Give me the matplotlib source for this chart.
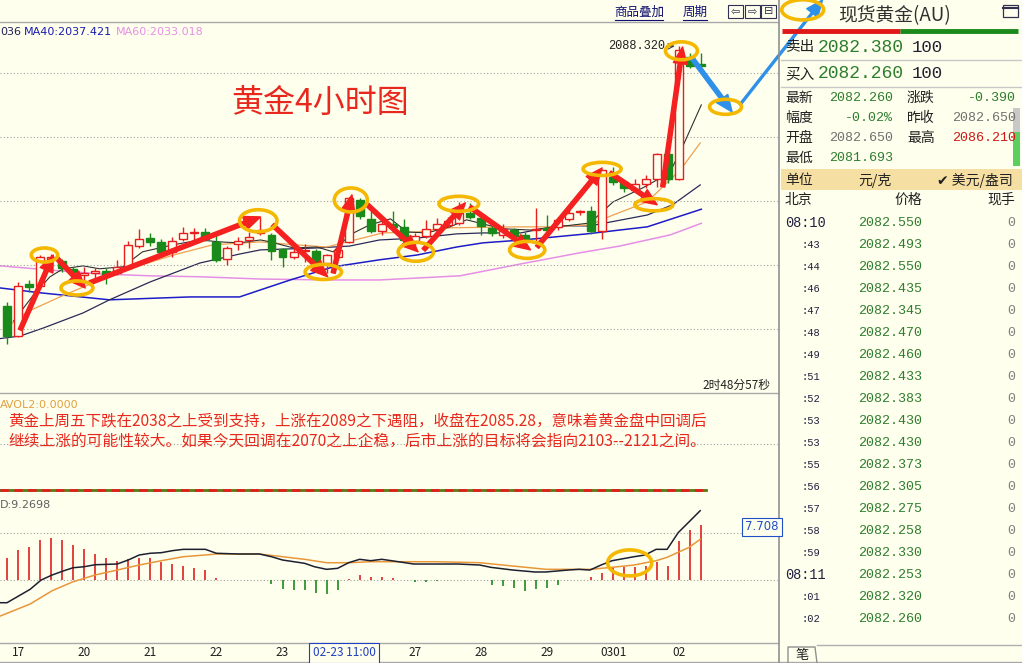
import matplotlib
matplotlib.use("Agg")
import matplotlib.pyplot as plt
from matplotlib.patches import Ellipse, Rectangle
import numpy as np

plt.rcParams['font.family'] = ['Noto Sans CJK SC', 'DejaVu Sans']

# ---- 4小时K线 (开 高 低 收) ----
k_open = [2007.2, 1997.8, 2014.1, 2013.4, 2022.0, 2021.3, 2018.8, 2017.0, 2017.5, 2018.0,
          2017.5, 2019.1, 2025.9, 2028.4, 2027.2, 2024.1, 2028.1, 2030.1, 2030.3, 2027.2,
          2021.9, 2026.6, 2027.8, 2030.0, 2029.4, 2025.0, 2022.5, 2024.4, 2024.4, 2020.6,
          2022.5, 2027.2, 2040.3, 2034.4, 2030.6, 2032.8, 2031.9, 2027.5, 2029.1, 2031.3,
          2032.5, 2033.1, 2036.3, 2034.7, 2031.6, 2029.4, 2030.9, 2029.4, 2030.9, 2031.6,
          2031.9, 2034.4, 2036.6, 2036.9, 2030.6, 2047.5, 2045.9, 2043.4, 2045.3, 2046.9,
          2054.7, 2046.9, 2085.0, 2082.65]
k_high = [2008.4, 2014.7, 2015.3, 2023.1, 2023.5, 2022.0, 2019.5, 2019.4, 2019.1, 2019.0,
          2021.5, 2027.5, 2031.3, 2030.0, 2028.0, 2028.8, 2031.9, 2031.6, 2031.6, 2030.0,
          2026.0, 2028.8, 2030.3, 2035.0, 2030.0, 2025.3, 2025.3, 2026.6, 2025.0, 2023.5,
          2027.2, 2041.3, 2041.0, 2036.9, 2034.7, 2036.9, 2034.4, 2030.0, 2034.1, 2034.7,
          2035.0, 2039.7, 2039.4, 2035.5, 2032.2, 2032.8, 2031.6, 2030.3, 2037.8, 2035.6,
          2035.0, 2038.1, 2037.2, 2038.4, 2050.0, 2050.6, 2046.5, 2047.0, 2048.1, 2055.0,
          2055.0, 2088.32, 2086.3, 2086.21]
k_low = [1995.3, 1997.5, 2011.6, 2012.5, 2018.0, 2017.8, 2017.0, 2013.5, 2016.0, 2014.0,
         2017.0, 2018.8, 2025.3, 2025.9, 2023.1, 2022.5, 2027.5, 2026.9, 2027.5, 2021.0,
         2020.0, 2024.7, 2025.3, 2029.5, 2021.6, 2019.4, 2022.0, 2021.0, 2018.4, 2017.5,
         2022.0, 2026.9, 2034.4, 2030.0, 2029.4, 2030.3, 2027.0, 2026.0, 2028.4, 2030.6,
         2031.9, 2032.5, 2034.4, 2029.4, 2029.0, 2028.4, 2028.4, 2026.6, 2027.2, 2030.0,
         2031.0, 2033.8, 2035.6, 2029.7, 2028.1, 2045.0, 2042.8, 2043.0, 2044.0, 2044.4,
         2045.6, 2046.5, 2081.5, 2081.69]
k_close = [1997.8, 2013.4, 2013.1, 2022.5, 2022.5, 2019.1, 2017.8, 2017.5, 2018.1, 2017.2,
           2019.4, 2026.3, 2028.1, 2027.2, 2024.1, 2027.5, 2030.0, 2030.3, 2028.1, 2021.6,
           2025.3, 2027.5, 2028.8, 2031.0, 2024.4, 2022.5, 2024.1, 2024.7, 2020.6, 2023.1,
           2024.7, 2040.9, 2035.3, 2030.6, 2032.8, 2031.9, 2027.8, 2029.1, 2031.3, 2032.8,
           2033.8, 2036.3, 2035.0, 2032.2, 2030.0, 2031.3, 2029.1, 2027.5, 2031.3, 2031.0,
           2034.1, 2036.3, 2036.9, 2030.6, 2049.7, 2045.9, 2044.1, 2045.3, 2046.9, 2054.7,
           2046.9, 2087.2, 2082.2, 2082.26]

# ---- 均线 (K线序号, 价格) ----
ma5_x = [0.6, 2.4, 3.9, 5.1, 6.9, 8.4, 10.5, 12.3, 15.1, 17.5, 19.3, 21.1, 23.0, 23.9, 26.0,
         28.1, 29.6, 31.1, 32.9, 34.8, 36.3, 38.1, 40.2, 41.7, 43.2, 45.0, 47.5, 49.9, 52.9,
         55.0, 57.7, 59.0, 59.9, 61.3, 63.0]
ma5_y = [2002.5, 2010.6, 2016.3, 2018.8, 2019.7, 2018.8, 2019.4, 2024.1, 2026.3, 2027.8, 2027.2,
         2026.9, 2027.8, 2027.2, 2025.3, 2025.6, 2024.1, 2029.4, 2032.5, 2034.4, 2030.3, 2030.0,
         2031.9, 2034.1, 2032.8, 2031.3, 2030.9, 2031.9, 2033.1, 2039.7, 2044.1, 2046.6, 2047.2,
         2056.9, 2070.0]
ma10_x = [0.0, 1.8, 4.8, 7.8, 11.4, 15.1, 18.7, 23.0, 25.0, 29.0, 30.5, 34.1, 37.2, 40.2, 46.3,
          49.0, 52.9, 55.0, 58.1, 59.5, 61.1, 62.9]
ma10_y = [2000.6, 2005.3, 2010.0, 2014.4, 2019.1, 2023.1, 2026.3, 2027.2, 2026.6, 2025.6, 2026.9,
          2030.0, 2030.3, 2031.6, 2031.9, 2031.9, 2032.5, 2035.6, 2039.7, 2044.4, 2049.7, 2058.1]
ma20_x = [-0.6, 1.2, 3.3, 6.9, 9.3, 13.0, 17.5, 21.1, 23.0, 28.1, 31.1, 33.8, 37.2, 40.8, 43.2,
          46.6, 49.9, 52.9, 58.1, 60.4, 62.9]
ma20_y = [1997.0, 1997.8, 2000.3, 2005.0, 2009.1, 2014.7, 2020.6, 2023.4, 2024.7, 2025.3, 2025.9,
          2027.8, 2028.4, 2029.7, 2030.0, 2030.0, 2032.2, 2032.2, 2035.6, 2038.8, 2045.0]
ma40_x = [-0.6, 3.0, 9.3, 16.6, 21.1, 23.0, 25.7, 29.6, 33.8, 37.2, 40.8, 43.2, 46.8, 52.6, 58.1, 63.0]
ma40_y = [2012.8, 2011.3, 2009.1, 2010.0, 2010.0, 2012.2, 2015.3, 2019.4, 2021.6, 2023.1, 2025.6,
          2026.9, 2027.8, 2029.7, 2031.9, 2037.4]
ma60_x = [-0.6, 3.9, 8.4, 13.0, 17.5, 23.0, 29.3, 33.8, 41.1, 46.6, 52.0, 55.6, 60.2, 63.0]
ma60_y = [2019.7, 2018.4, 2017.2, 2016.6, 2016.3, 2015.6, 2015.3, 2015.3, 2016.6, 2020.3, 2023.8,
          2025.9, 2029.4, 2033.0]

# ---- MACD ----
macd_hist = [3.68, 5.08, 5.54, 6.78, 7.07, 6.78, 5.93, 5.20, 4.41, 3.68, 3.22, 3.56, 3.78, 3.68,
             3.10, 2.71, 2.42, 2.08, 1.69, 0.39, 0.08, 0.05, 0.0, -0.05, -0.68, -1.58, -1.69,
             -1.69, -2.25, -2.37, -1.69, 0.17, 0.85, 0.56, 0.56, 0.29, 0.05, -0.34, -0.34, -0.25,
             -0.08, 0.0, 0.0, 0.0, -0.85, -1.02, -1.30, -1.81, -1.53, -1.30, -0.85, 0.05, 0.08,
             0.46, 1.24, 1.98, 2.25, 2.15, 2.37, 3.10, 2.37, 6.66, 8.47, 9.27]
dif_x = [-0.6, 0.0, 2.1, 3.1, 4.1, 5.1, 6.0, 7.0, 8.0, 10.0, 11.0, 12.0, 13.0, 14.0, 15.0, 16.0,
         18.0, 19.0, 21.0, 22.9, 24.0, 25.0, 27.0, 27.9, 29.0, 30.0, 31.0, 32.0, 33.0, 34.0, 34.9,
         36.9, 38.9, 40.9, 42.9, 43.9, 45.9, 47.9, 48.9, 50.9, 51.9, 52.9, 53.9, 54.9, 56.9, 57.9,
         58.9, 59.9, 60.9, 61.9, 62.9]
dif_y = [-3.85, -3.85, -1.58, 0.0, 0.85, 1.53, 2.08, 2.25, 2.59, 2.71, 3.39, 4.24, 4.53, 4.63,
         4.97, 5.20, 5.20, 4.53, 4.41, 4.41, 3.95, 3.39, 2.83, 2.25, 1.81, 1.98, 2.93, 3.51, 3.27,
         3.51, 3.27, 2.71, 2.71, 2.71, 2.54, 2.15, 1.69, 1.36, 1.36, 1.69, 1.81, 1.69, 2.54, 3.27,
         3.95, 4.24, 5.20, 5.20, 8.02, 9.88, 11.75]
dea_x = [-0.6, 2.1, 4.1, 6.0, 8.0, 10.0, 12.0, 14.0, 16.0, 18.0, 19.0, 22.9, 25.0, 27.0, 29.0,
         31.0, 33.0, 34.9, 38.9, 42.9, 45.9, 48.9, 51.9, 52.9, 54.9, 56.9, 58.9, 59.9, 61.9, 62.9]
dea_y = [-6.10, -4.07, -1.81, -0.29, 0.85, 1.69, 2.54, 3.27, 3.95, 4.24, 4.41, 4.41, 3.95, 3.51,
         2.93, 2.93, 3.10, 3.10, 3.10, 2.93, 2.37, 1.81, 1.81, 1.81, 2.15, 2.54, 3.27, 3.85, 5.54,
         6.90]

day_ticks = [1, 7, 13, 19, 25, 37, 43, 49, 55, 61]
day_labels = ['17', '20', '21', '22', '23', '27', '28', '29', '0301', '02']
grid_prices = [2000, 2020, 2040, 2060, 2080]

# ---- 标注: 红色箭头 (起点 -> 终点), 黄色圈 ----
red_from = [(1.2, 1999.7), (4.5, 2022.2), (7.5, 2014.4), (24.1, 2032.5), (29.6, 2017.5),
            (32.7, 2038.8), (37.8, 2024.7), (42.0, 2038.1), (48.1, 2025.6), (54.7, 2048.8),
            (59.5, 2044.4)]
red_to = [(4.2, 2023.1), (7.1, 2012.8), (23.0, 2035.0), (29.1, 2016.3), (31.3, 2041.9),
          (37.3, 2024.1), (41.6, 2039.4), (47.5, 2024.7), (54.0, 2050.3), (59.0, 2038.8),
          (61.3, 2088.1)]
blue_from = [(62.2, 2084.4), (66.5, 2070.0)]
blue_to = [(65.8, 2067.8), (74.0, 2102.8)]
ring_x = [3.4, 6.35, 22.8, 28.7, 31.2, 37.1, 41.0, 47.2, 54.0, 58.7, 61.2, 65.2, 72.2]
ring_y = [2023.1, 2012.8, 2033.8, 2017.8, 2040.3, 2024.1, 2039.1, 2024.7, 2050.0, 2038.8,
          2086.9, 2069.4, 2099.7]
ring_w = [2.4, 2.9, 3.4, 3.3, 3.0, 3.2, 3.6, 3.2, 3.45, 3.45, 2.9, 2.9, 3.8]
ring_h = [4.4, 4.4, 6.9, 4.7, 7.5, 5.9, 4.7, 5.3, 4.1, 3.8, 5.6, 4.7, 6.3]

# ---- 右侧报价 ----
quote_l = [('最新', '2082.260', 'g'), ('幅度', '-0.02%', 'g'), ('开盘', '2082.650', 'n'), ('最低', '2081.693', 'g')]
quote_r = [('涨跌', '-0.390', 'g'), ('昨收', '2082.650', 'n'), ('最高', '2086.210', 'r')]
tick_time = ['08:10', ':43', ':44', ':46', ':47', ':48', ':49', ':51', ':52', ':53', ':53', ':55',
             ':56', ':57', ':58', ':59', '08:11', ':01', ':02']
tick_price = ['2082.550', '2082.493', '2082.550', '2082.435', '2082.345', '2082.470', '2082.460',
              '2082.433', '2082.383', '2082.430', '2082.430', '2082.373', '2082.305', '2082.275',
              '2082.258', '2082.330', '2082.253', '2082.320', '2082.260']
tick_vol = [0] * 19

W, H = 1022, 663
BG = '#FFFFEE'
RED = '#E81E1E'
GREEN = '#1A8A1A'
GOLD = '#F5B800'
TXTRED = '#E8281E'
QGREEN = '#2E7D2E'
MONO = 'Liberation Mono'

fig = plt.figure(figsize=(W / 100, H / 100), dpi=100, facecolor=BG)


def px_axes(l, t, r, b):
    a = fig.add_axes([l / W, 1 - b / H, (r - l) / W, (b - t) / H])
    a.set_facecolor(BG)
    for s in a.spines.values():
        s.set_visible(False)
    return a


XL = (-0.635, 69.96)

# 主图
ax = px_axes(0, 22, 778, 392)
ax.set_xlim(*XL)
ax.set_ylim(1980.3, 2095.9)
ax.set_yticks(grid_prices)
ax.set_xticks([])
ax.grid(axis='y', color='#A0A0A0', ls=(0, (1, 2)), lw=0.8)
ax.tick_params(left=False, labelleft=False)

idx = np.arange(len(k_close))
o, h, l, c = (np.array(v) for v in (k_open, k_high, k_low, k_close))
up = c >= o
col = np.where(up, RED, GREEN)
ax.vlines(idx, l, h, colors=col, lw=1, zorder=2)
ax.bar(idx, np.maximum(np.abs(c - o), 0.25), bottom=np.minimum(o, c), width=0.72,
       color=np.where(up, BG, GREEN), edgecolor=col, lw=1, zorder=3)

ax.plot(ma60_x, ma60_y, color='#E58FE5', lw=1.1, zorder=1)
ax.plot(ma40_x, ma40_y, color='#1C1CC8', lw=1.1, zorder=1)
ax.plot(ma20_x, ma20_y, color='#2A2A5A', lw=0.9, zorder=1)
ax.plot(ma10_x, ma10_y, color='#F0A050', lw=0.9, zorder=1)
ax.plot(ma5_x, ma5_y, color='#303030', lw=0.8, zorder=1)

for p0, p1 in zip(red_from, red_to):
    ax.annotate('', xy=p1, xytext=p0, annotation_clip=False, zorder=6,
                arrowprops=dict(arrowstyle='simple,head_length=1.2,head_width=1.0,tail_width=0.3',
                                color='#F52020', shrinkA=0, shrinkB=0, mutation_scale=10))
for (p0, p1), w in zip(zip(blue_from, blue_to), [0.3, 0.14]):
    ax.annotate('', xy=p1, xytext=p0, annotation_clip=False, zorder=6,
                arrowprops=dict(arrowstyle=f'simple,head_length=1.2,head_width=1.0,tail_width={w}',
                                color='#2E90E8', shrinkA=0, shrinkB=0, mutation_scale=10))
for x0, y0, w, hh in zip(ring_x, ring_y, ring_w, ring_h):
    ax.add_patch(Ellipse((x0, y0), w, hh, fill=False, edgecolor=GOLD, lw=2.6, zorder=7, clip_on=False))

ax.text(59.75, 2088.32, '2088.320', ha='right', va='center', family=MONO, fontsize=8.6, color='#202020')
ax.annotate('', xy=(60.85, 2088.32), xytext=(59.85, 2088.32),
            arrowprops=dict(arrowstyle='->', color='#404040', lw=0.8))

# MACD
am = px_axes(0, 495, 778, 642)
am.set_xlim(*XL)
am.set_ylim(-10.51, 14.41)
am.set_yticks([0, 8])
am.grid(axis='y', color='#A0A0A0', ls=(0, (1, 2)), lw=0.8)
hist = np.array(macd_hist)
am.vlines(idx, 0, hist, colors=np.where(hist >= 0, '#E02020', '#1E8A1E'), lw=1.2)
am.plot(dea_x, dea_y, color='#E8963A', lw=1.1)
am.plot(dif_x, dif_y, color='#1C2030', lw=1.1)
am.add_patch(Ellipse((56.5, 2.9), 4.0, 4.4, fill=False, edgecolor=GOLD, lw=2.6, zorder=7))
am.set_xticks(day_ticks)
am.set_xticklabels(day_labels, fontsize=8.5, color='#202020')
am.tick_params(axis='x', length=0, pad=3)
am.tick_params(axis='y', left=False, labelleft=False)

# 覆盖层: 文字与边框
ov = fig.add_axes([0, 0, 1, 1], facecolor='none')
ov.set_xlim(0, W)
ov.set_ylim(H, 0)
ov.axis('off')

line = dict(color='#A8A8A8', lw=1)
ov.plot([0, 778], [22, 22], **line)
ov.plot([0, 778], [393, 393], **line)
ov.plot([0, 778], [643, 643], **line)
ov.plot([0, W], [662, 662], **line)
ov.plot([779, 779], [0, H], color='#909090', lw=1.2)
ov.plot([0, 778], [444, 444], color='#A0A0A0', ls=(0, (1, 2)), lw=0.8)
ov.plot([0, 706], [490, 490], color='#5A7A10', lw=2)
ov.plot([0, 706], [490, 490], color='#E02020', lw=2, dashes=(3, 2))

# 顶部
ov.text(639, 12, '商品叠加', ha='center', va='center', fontsize=9, color='#101070')
ov.text(695, 12, '周期', ha='center', va='center', fontsize=9, color='#101070')
ov.plot([615, 663], [20, 20], color='#101070', lw=0.8)
ov.plot([683, 707], [20, 20], color='#101070', lw=0.8)
for x0, g in zip([728, 745, 761], ['⇦', '⇨', '⊟']):
    ov.add_patch(Rectangle((x0, 5), 15, 13, fill=False, edgecolor='#303050', lw=0.8))
    ov.text(x0 + 7.5, 11.5, g, ha='center', va='center', fontsize=8, color='#303050', family='DejaVu Sans')

ov.text(0, 32, '036', ha='left', va='center', fontsize=8, color='#20205A', family='DejaVu Sans')
ov.text(24, 32, 'MA40:2037.421', ha='left', va='center', fontsize=8, color='#1C1CB0', family='DejaVu Sans')
ov.text(116, 32, 'MA60:2033.018', ha='left', va='center', fontsize=8, color='#E58FE5', family='DejaVu Sans')
ov.text(320, 103, '黄金4小时图', ha='center', va='center', fontsize=23, color=TXTRED)
ov.text(770, 385, '2时48分57秒', ha='right', va='center', fontsize=8.5, color='#202020')

ov.text(0, 405, 'AVOL2:0.0000', ha='left', va='center', fontsize=8, color='#E0A040', family='DejaVu Sans')
ov.text(8, 422, '黄金上周五下跌在2038之上受到支持，上涨在2089之下遇阻，收盘在2085.28，意味着黄金盘中回调后',
        ha='left', va='center', fontsize=11.2, color=TXTRED)
ov.text(8, 442, '继续上涨的可能性较大。如果今天回调在2070之上企稳，后市上涨的目标将会指向2103--2121之间。',
        ha='left', va='center', fontsize=11.3, color=TXTRED)

ov.text(0, 505, 'D:9.2698', ha='left', va='center', fontsize=8, color='#606060', family='DejaVu Sans')
ov.text(762, 527, '7.708', ha='center', va='center', fontsize=8.5, color='#1E50C8', family='DejaVu Sans',
        bbox=dict(boxstyle='square,pad=0.25', facecolor=BG, edgecolor='#1E50C8', lw=0.8))
ov.text(344, 653, '02-23 11:00', ha='center', va='center', fontsize=8.5, color='#2040C0',
        bbox=dict(boxstyle='square,pad=0.3', facecolor=BG, edgecolor='#2040C0', lw=0.8))

# 右侧面板
ov.text(895, 16, '现货黄金(AU)', ha='center', va='center', fontsize=13.5, color='#303030')
ov.add_patch(Rectangle((1003, 5), 15, 12, fill=False, edgecolor='#303050', lw=0.9))
ov.plot([1003, 1018], [8, 8], color='#303050', lw=1.5)
ov.plot([782, 900], [31, 31], color='#E01818', lw=3.5, solid_capstyle='butt')
ov.plot([900, 1018], [31, 31], color='#1A8A1A', lw=3.5, solid_capstyle='butt')
for y0, lab, price in [(47, '卖出', '2082.380'), (74, '买入', '2082.260')]:
    ov.text(785, y0, lab, ha='left', va='center', fontsize=10.5, color='#202020')
    ov.text(818, y0, price, ha='left', va='center', fontsize=13, color=QGREEN, family=MONO)
    ov.text(912, y0, '100', ha='left', va='center', fontsize=12.5, color='#202030', family=MONO)
for y0 in [60, 87]:
    ov.plot([781, W], [y0, y0], color='#C8C8C8', lw=1)

qcol = {'g': QGREEN, 'n': '#707070', 'r': '#D01818'}
for k, (lab, val, cc) in enumerate(quote_l):
    y0 = 98 + 20 * k
    ov.text(785, y0, lab, ha='left', va='center', fontsize=10, color='#202020')
    ov.text(893, y0, val, ha='right', va='center', fontsize=9.6, color=qcol[cc], family=MONO)
for k, (lab, val, cc) in enumerate(quote_r):
    y0 = 98 + 20 * k
    ov.text(907, y0, lab, ha='left', va='center', fontsize=10, color='#202020')
    ov.text(1016, y0, val, ha='right', va='center', fontsize=9.6, color=qcol[cc], family=MONO)
ov.add_patch(Rectangle((1013, 108), 7, 58, facecolor='#C8C8C8', edgecolor='none'))
ov.add_patch(Rectangle((1013, 132), 7, 34, facecolor='#5CD05C', edgecolor='none'))

ov.add_patch(Rectangle((781, 169), W - 781, 21, facecolor='#F6DFA2', edgecolor='none'))
ov.text(785, 180, '单位', ha='left', va='center', fontsize=10, color='#202020')
ov.text(875, 180, '元/克', ha='center', va='center', fontsize=10, color='#202020')
ov.text(1013, 180, '✔ 美元/盎司', ha='right', va='center', fontsize=10, color='#202020')
ov.text(785, 200, '北京', ha='left', va='center', fontsize=10, color='#202020')
ov.text(922, 200, '价格', ha='right', va='center', fontsize=10, color='#202020')
ov.text(1015, 200, '现手', ha='right', va='center', fontsize=10, color='#202020')

for k, (t, p, v) in enumerate(zip(tick_time, tick_price, tick_vol)):
    y0 = 223 + 22 * k
    if t.startswith(':'):
        ov.text(801, y0, t, ha='left', va='center', fontsize=7.5, color='#202040', family=MONO)
    else:
        ov.text(785, y0, t, ha='left', va='center', fontsize=9.8, color='#202040', family=MONO)
    ov.text(922, y0, p, ha='right', va='center', fontsize=9.6, color=QGREEN, family=MONO)
    ov.text(1015, y0, str(v), ha='right', va='center', fontsize=9.6, color='#808080', family=MONO)

ov.plot([788, 788, 815, 817], [663, 647, 647, 663], color='#909090', lw=1)
ov.text(802, 655, '笔', ha='center', va='center', fontsize=9.5, color='#202020')
ov.plot([817, W], [645, 645], color='#B0B0B0', lw=1)

fig.savefig('out.png', dpi=100, facecolor=BG)
